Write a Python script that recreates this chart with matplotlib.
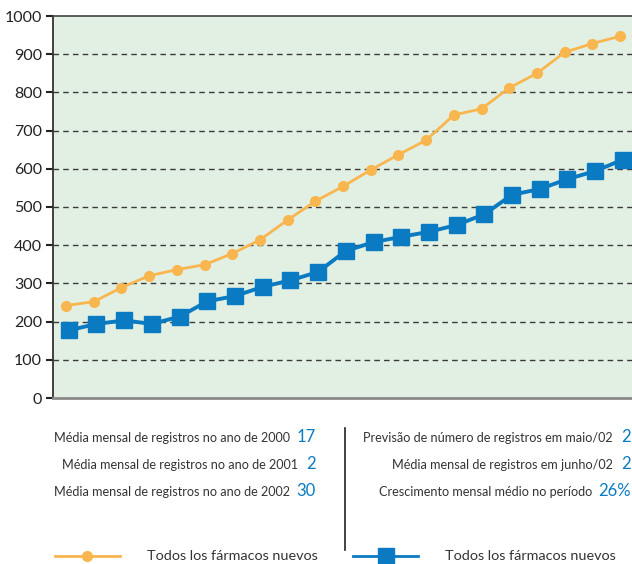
import numpy as np
import matplotlib
matplotlib.use('Agg')
from matplotlib import pyplot as plt
from matplotlib.lines import Line2D

# monthly registrations
months = np.arange(21)
orange_vals = [242, 252, 289, 320, 336, 349, 378, 414, 466, 515, 554,
               597, 637, 675, 741, 757, 812, 850, 905, 928, 947]
blue_vals = [177, 194, 203, 194, 213, 253, 267, 291, 308, 330, 385,
             408, 422, 435, 453, 481, 532, 547, 573, 594, 624]
yticks = list(range(0, 1001, 100))

left_labels = ['Média mensal de registros no ano de 2000',
               'Média mensal de registros no ano de 2001',
               'Média mensal de registros no ano de 2002']
left_values = ['17', '2', '30']
right_labels = ['Previsão de número de registros em maio/02',
                'Média mensal de registros em junho/02',
                'Crescimento mensal médio no período']
right_values = ['2', '2', '26%']
legend_labels = ['Todos los fármacos nuevos', 'Todos los fármacos nuevos']

ORANGE = '#f9b64e'
BLUE = '#0a7bc2'
TEXT = '#333333'

plt.rcParams['font.family'] = ['Lato', 'DejaVu Sans']

W, H = 632, 564
fig = plt.figure(figsize=(W / 100, H / 100), dpi=100)


def px(x, y):
    return x / W, 1 - y / H


ax = fig.add_axes([53 / W, (H - 398) / H, (W - 53) / W, (398 - 16) / H])
ax.set_facecolor('#e2f0e4')
ax.plot(months, orange_vals, color=ORANGE, lw=2, marker='o', ms=7,
        zorder=3)
# blue series sits a touch to the right of the orange one
ax.plot(months + 0.1, blue_vals, color=BLUE, lw=2.8, marker='s', ms=11.5,
        zorder=4)
ax.set_xlim(-0.47, 20.43)
ax.set_ylim(0, 1000)
ax.set_yticks(yticks)
ax.set_xticks([])
for v in yticks[1:-1]:
    ax.axhline(v, color='#3a3a3a', lw=1, ls=(0, (4, 3)), zorder=1)
ax.tick_params(axis='y', direction='out', length=5, width=1.5,
               color='#222222', labelsize=11.5, labelcolor='#222222', pad=3)
ax.spines['right'].set_visible(False)
ax.spines['left'].set_color('#333333')
ax.spines['left'].set_linewidth(1.3)
ax.spines['top'].set_color('#444444')
ax.spines['top'].set_linewidth(1.2)
ax.spines['bottom'].set_color('#8a8a8a')
ax.spines['bottom'].set_linewidth(2)

# summary text block
rows_y = [438, 465, 492]
left_label_end = [290, 298, 290]
right_label_end = [613, 613, 592]
for i in range(3):
    fig.text(*px(left_label_end[i], rows_y[i]), left_labels[i], ha='right',
             va='center', fontsize=9.1, color=TEXT)
    fig.text(*px(316, rows_y[i] - 1), left_values[i], ha='right',
             va='center', fontsize=12, color=BLUE)
    fig.text(*px(right_label_end[i], rows_y[i]), right_labels[i],
             ha='right', va='center', fontsize=9.1, color=TEXT)
    fig.text(*px(631, rows_y[i] - 1), right_values[i], ha='right',
             va='center', fontsize=12, color=BLUE)

fig.add_artist(Line2D([345 / W, 345 / W], [1 - 428 / H, 1 - 550 / H],
                      color='#222222', lw=1.2))

# legend
fig.add_artist(Line2D([55 / W, 120 / W], [1 - 556 / H] * 2, color=ORANGE,
                      lw=2))
fig.add_artist(Line2D([87 / W], [1 - 556 / H], color=ORANGE, marker='o',
                      ms=7))
fig.text(*px(147, 556), legend_labels[0], ha='left', va='center',
         fontsize=10.4, color=TEXT)
fig.add_artist(Line2D([353 / W, 418 / W], [1 - 556 / H] * 2, color=BLUE,
                      lw=2))
fig.add_artist(Line2D([386 / W], [1 - 556 / H], color=BLUE, marker='s',
                      ms=11.5))
fig.text(*px(445, 556), legend_labels[1], ha='left', va='center',
         fontsize=10.4, color=TEXT)

fig.savefig('out.png', dpi=100)
